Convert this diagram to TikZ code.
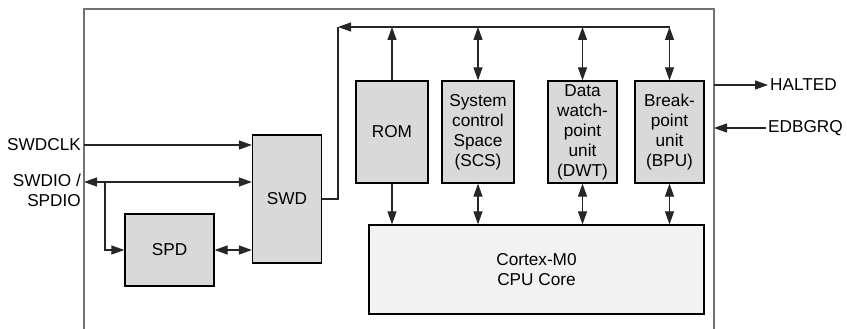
\documentclass[tikz,border=0pt]{standalone}
\usepackage{fontspec}
\setmainfont{Liberation Sans}
\usetikzlibrary{arrows.meta}

\tikzset{
  unit/.style={draw, line width=1.2pt, fill=black!15, align=center, inner sep=0pt},
  core/.style={unit, fill=black!5},
  sig/.style={line width=1.1pt, draw=black!85},
  tip/.style={-{Triangle[length=13pt,width=9pt]}},
  tips/.style={{Triangle[length=13pt,width=9pt]}-{Triangle[length=13pt,width=9pt]}},
  frame/.style={line width=1.8pt, draw=black!55},
  pin/.style={inner sep=2pt}
}

\begin{document}
\begin{tikzpicture}[x=1pt,y=-1pt,font=\fontsize{17.2}{20}\selectfont]
\useasboundingbox (0,0) rectangle (847,329);

% debug block outline
\coordinate (fTL) at (84,9);
\coordinate (fTR) at (714,9);
\draw[frame] (84,329) -- (fTL) -- (fTR) -- (714,329);

% units
\node[unit, minimum width=89, minimum height=72] (spd) at (169.5,250) {SPD};
\node[unit, minimum width=69, minimum height=128] (swd) at (287,199) {SWD};
\node[unit, minimum width=72, minimum height=102] (rom) at (392,132) {ROM};
\node[unit, minimum width=72, minimum height=102] (scs) at (478,132) {System\\control\\Space\\(SCS)};
\node[unit, minimum width=69, minimum height=102] (dwt) at (582.5,132) {Data\\watch-\\point\\unit\\(DWT)};
\node[unit, minimum width=69, minimum height=102] (bpu) at (669.5,132) {Break-\\point\\unit\\(BPU)};
\node[core, minimum width=335, minimum height=89] (cpu) at (536.5,269.5) {Cortex-M0\\CPU Core};

% external pins
\node[pin, anchor=east] (swdclk) at (83,145) {SWDCLK};
\node[pin, anchor=north east, align=right] (swdio) at (83,172) {SWDIO /\\SPDIO};
\node[pin, anchor=west] (halted) at (768,85) {HALTED};
\node[pin, anchor=west] (edbgrq) at (766,128) {EDBGRQ};

% serial wire side
\coordinate (clkin) at (swdclk.east -| fTL);
\coordinate (dio) at (84,182);
\coordinate (dioj) at (105,182);
\draw[sig,tip] (clkin) -- (clkin -| swd.west);
\draw[sig,tip] (dioj) -- (dio);
\draw[sig,tip] (dioj) -- (dio -| swd.west);
\draw[sig,tip] (dioj) |- (spd.west);
\draw[sig,tips] (spd.east) -- (spd.east -| swd.west);

% internal bus
\coordinate (busL) at (338,27);
\draw[sig] (swd.east) -| (busL);
\draw[sig,tip] (bpu.north |- busL) -- (busL);
\draw[sig,tip] (rom.north) -- (rom.north |- busL);
\foreach \u in {scs,dwt,bpu}
  \draw[sig,tips] (\u.north) -- (\u.north |- busL);

% to the core
\draw[sig,tip] (rom.south) -- (rom.south |- cpu.north);
\foreach \u in {scs,dwt,bpu}
  \draw[sig,tips] (\u.south) -- (\u.south |- cpu.north);

% halt signals
\draw[sig,tip] (halted.west -| fTR) -- (halted.west);
\draw[sig,tip] (edbgrq.west) -- (edbgrq.west -| fTR);
\end{tikzpicture}
\end{document}
